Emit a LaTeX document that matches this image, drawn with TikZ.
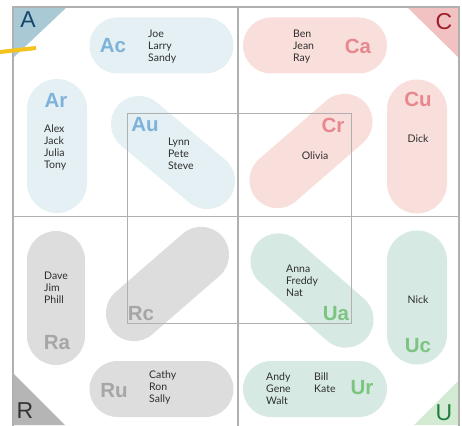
\documentclass[tikz,border=0pt]{standalone}
\usepackage{fontspec}
\setmainfont{Lato}
\newfontfamily\tagfamily{Liberation Sans}
\usetikzlibrary{positioning}

\definecolor{blueFill}{HTML}{E4F0F3}
\definecolor{blueTag}{HTML}{7DB3DA}
\definecolor{pinkFill}{HTML}{F9DFDC}
\definecolor{pinkTag}{HTML}{E8878D}
\definecolor{grayFill}{HTML}{DDDDDD}
\definecolor{grayTag}{HTML}{A6A6A6}
\definecolor{greenFill}{HTML}{D6EAE3}
\definecolor{greenTag}{HTML}{7CC47F}
\definecolor{aCorner}{HTML}{A9C9D4}
\definecolor{aLetter}{HTML}{15466B}
\definecolor{cCorner}{HTML}{F2C2C2}
\definecolor{cLetter}{HTML}{9E1B2A}
\definecolor{rCorner}{HTML}{B5B5B5}
\definecolor{rLetter}{HTML}{333333}
\definecolor{uCorner}{HTML}{D3EBD3}
\definecolor{uLetter}{HTML}{1E7D3A}
\definecolor{frameGray}{HTML}{B0B0B0}
\definecolor{nameGray}{HTML}{2E2E2E}
\definecolor{marker}{HTML}{F5C21B}

\begin{document}
\begin{tikzpicture}[x=1pt, y=-1pt,
		blob/.style={inner sep=0pt, minimum width=144pt, minimum height=56pt, rounded corners=28pt},
		names/.style={inner sep=0pt, align=left, text=nameGray, font=\fontsize{10.5}{12}\selectfont},
		grouptag/.style={inner sep=0pt, font=\tagfamily\bfseries\fontsize{20.5}{20.5}\selectfont},
		corner/.style={inner sep=0pt, font=\tagfamily\fontsize{23}{23}\selectfont}]
	\clip (0,0) rectangle (462,425);
	
	% Blobs
	\node[blob, fill=blueFill] (ac) at (161.5,45.5) {};
	\node[blob, fill=blueFill, minimum width=134pt, minimum height=60pt, rounded corners=30pt, rotate=90] (ar) at (57,146) {};
	\node[blob, fill=blueFill, minimum width=145pt, rotate=-40] (au) at (173,152.5) {};
	
	\node[blob, fill=pinkFill] (ca) at (315,45.5) {};
	\node[blob, fill=pinkFill, minimum width=134pt, minimum height=60pt, rounded corners=30pt, rotate=90] (cu) at (417,146.5) {};
	\node[blob, fill=pinkFill, minimum width=145pt, rotate=41] (cr) at (311,151) {};
	
	\node[blob, fill=grayFill, minimum width=134pt, minimum height=58pt, rounded corners=29pt, rotate=90] (ra) at (56,298) {};
	\node[blob, fill=grayFill, minimum width=145pt, rotate=41] (rc) at (167.5,284) {};
	\node[blob, fill=grayFill] (ru) at (161.5,389) {};
	
	\node[blob, fill=greenFill, minimum width=145pt, rotate=-41] (ua) at (312,290.5) {};
	\node[blob, fill=greenFill, minimum width=134pt, minimum height=60pt, rounded corners=30pt, rotate=90] (uc) at (417,297.5) {};
	\node[blob, fill=greenFill] (ur) at (315,389) {};
	
	% Corners
	\fill[aCorner] (13,7) -- (67,7) -- (13,58) -- cycle;
	\fill[cCorner] (407,7) -- (459,7) -- (459,58) -- cycle;
	\fill[rCorner] (13,373) -- (13,425) -- (65,425) -- cycle;
	\fill[uCorner] (459,380) -- (459,425) -- (414,425) -- cycle;
	
	% Frame
	\draw[frameGray, line width=1.3pt] (13,7) rectangle (459,440);
	\draw[frameGray, line width=1.3pt] (238,7) -- (238,440);
	\draw[frameGray, line width=1.3pt] (13,216.5) -- (459,216.5);
	\draw[frameGray, line width=0.9pt] (127,113) rectangle (351,323);
	
	% Marker
	\draw[marker, line width=4pt] (0,52) -- (36,48);
	
	% Corner letters
	\node[corner, text=aLetter] (a) at (28,20) {A};
	\node[corner, text=cLetter] (c) at (444,22) {C};
	\node[corner, text=rLetter] (r) at (25,411) {R};
	\node[corner, text=uLetter] (u) at (444,413) {U};
	
	% Tags
	\node[grouptag, text=blueTag] (acTag) at (113,46) {Ac};
	\node[grouptag, text=blueTag] (arTag) at (56,100) {Ar};
	\node[grouptag, text=blueTag] (auTag) at (145,125) {Au};
	\node[grouptag, text=pinkTag] (caTag) at (358,46) {Ca};
	\node[grouptag, text=pinkTag] (cuTag) at (418,99) {Cu};
	\node[grouptag, text=pinkTag] (crTag) at (333,125) {Cr};
	\node[grouptag, text=grayTag] (raTag) at (57,343) {Ra};
	\node[grouptag, text=grayTag] (rcTag) at (141,314) {Rc};
	\node[grouptag, text=grayTag] (ruTag) at (114,391) {Ru};
	\node[grouptag, text=greenTag] (uaTag) at (336,314) {Ua};
	\node[grouptag, text=greenTag] (ucTag) at (418,346) {Uc};
	\node[grouptag, text=greenTag] (urTag) at (362,388) {Ur};
	
	% Names
	\node[names, anchor=west] (acNames) at (148,47) {Joe\\Larry\\Sandy};
	\node[names, anchor=west] (arNames) at (44,148) {Alex\\Jack\\Julia\\Tony};
	\node[names, anchor=west] (auNames) at (168,154) {Lynn\\Pete\\Steve};
	\node[names, anchor=west] (caNames) at (293,47) {Ben\\Jean\\Ray};
	\node[names] (cuNames) at (418,139) {Dick};
	\node[names] (crNames) at (315,156) {Olivia};
	\node[names, anchor=west] (raNames) at (44,288) {Dave\\Jim\\Phill};
	\node[names, anchor=west] (ruNames) at (149,388) {Cathy\\Ron\\Sally};
	\node[names, anchor=west] (uaNames) at (286,281) {Anna\\Freddy\\Nat};
	\node[names] (ucNames) at (418,300) {Nick};
	\node[names, anchor=west] (urNames) at (266,389) {Andy\\Gene\\Walt};
	\node[names, anchor=west] (urNamesB) at (314,383) {Bill\\Kate};
\end{tikzpicture}
\end{document}
